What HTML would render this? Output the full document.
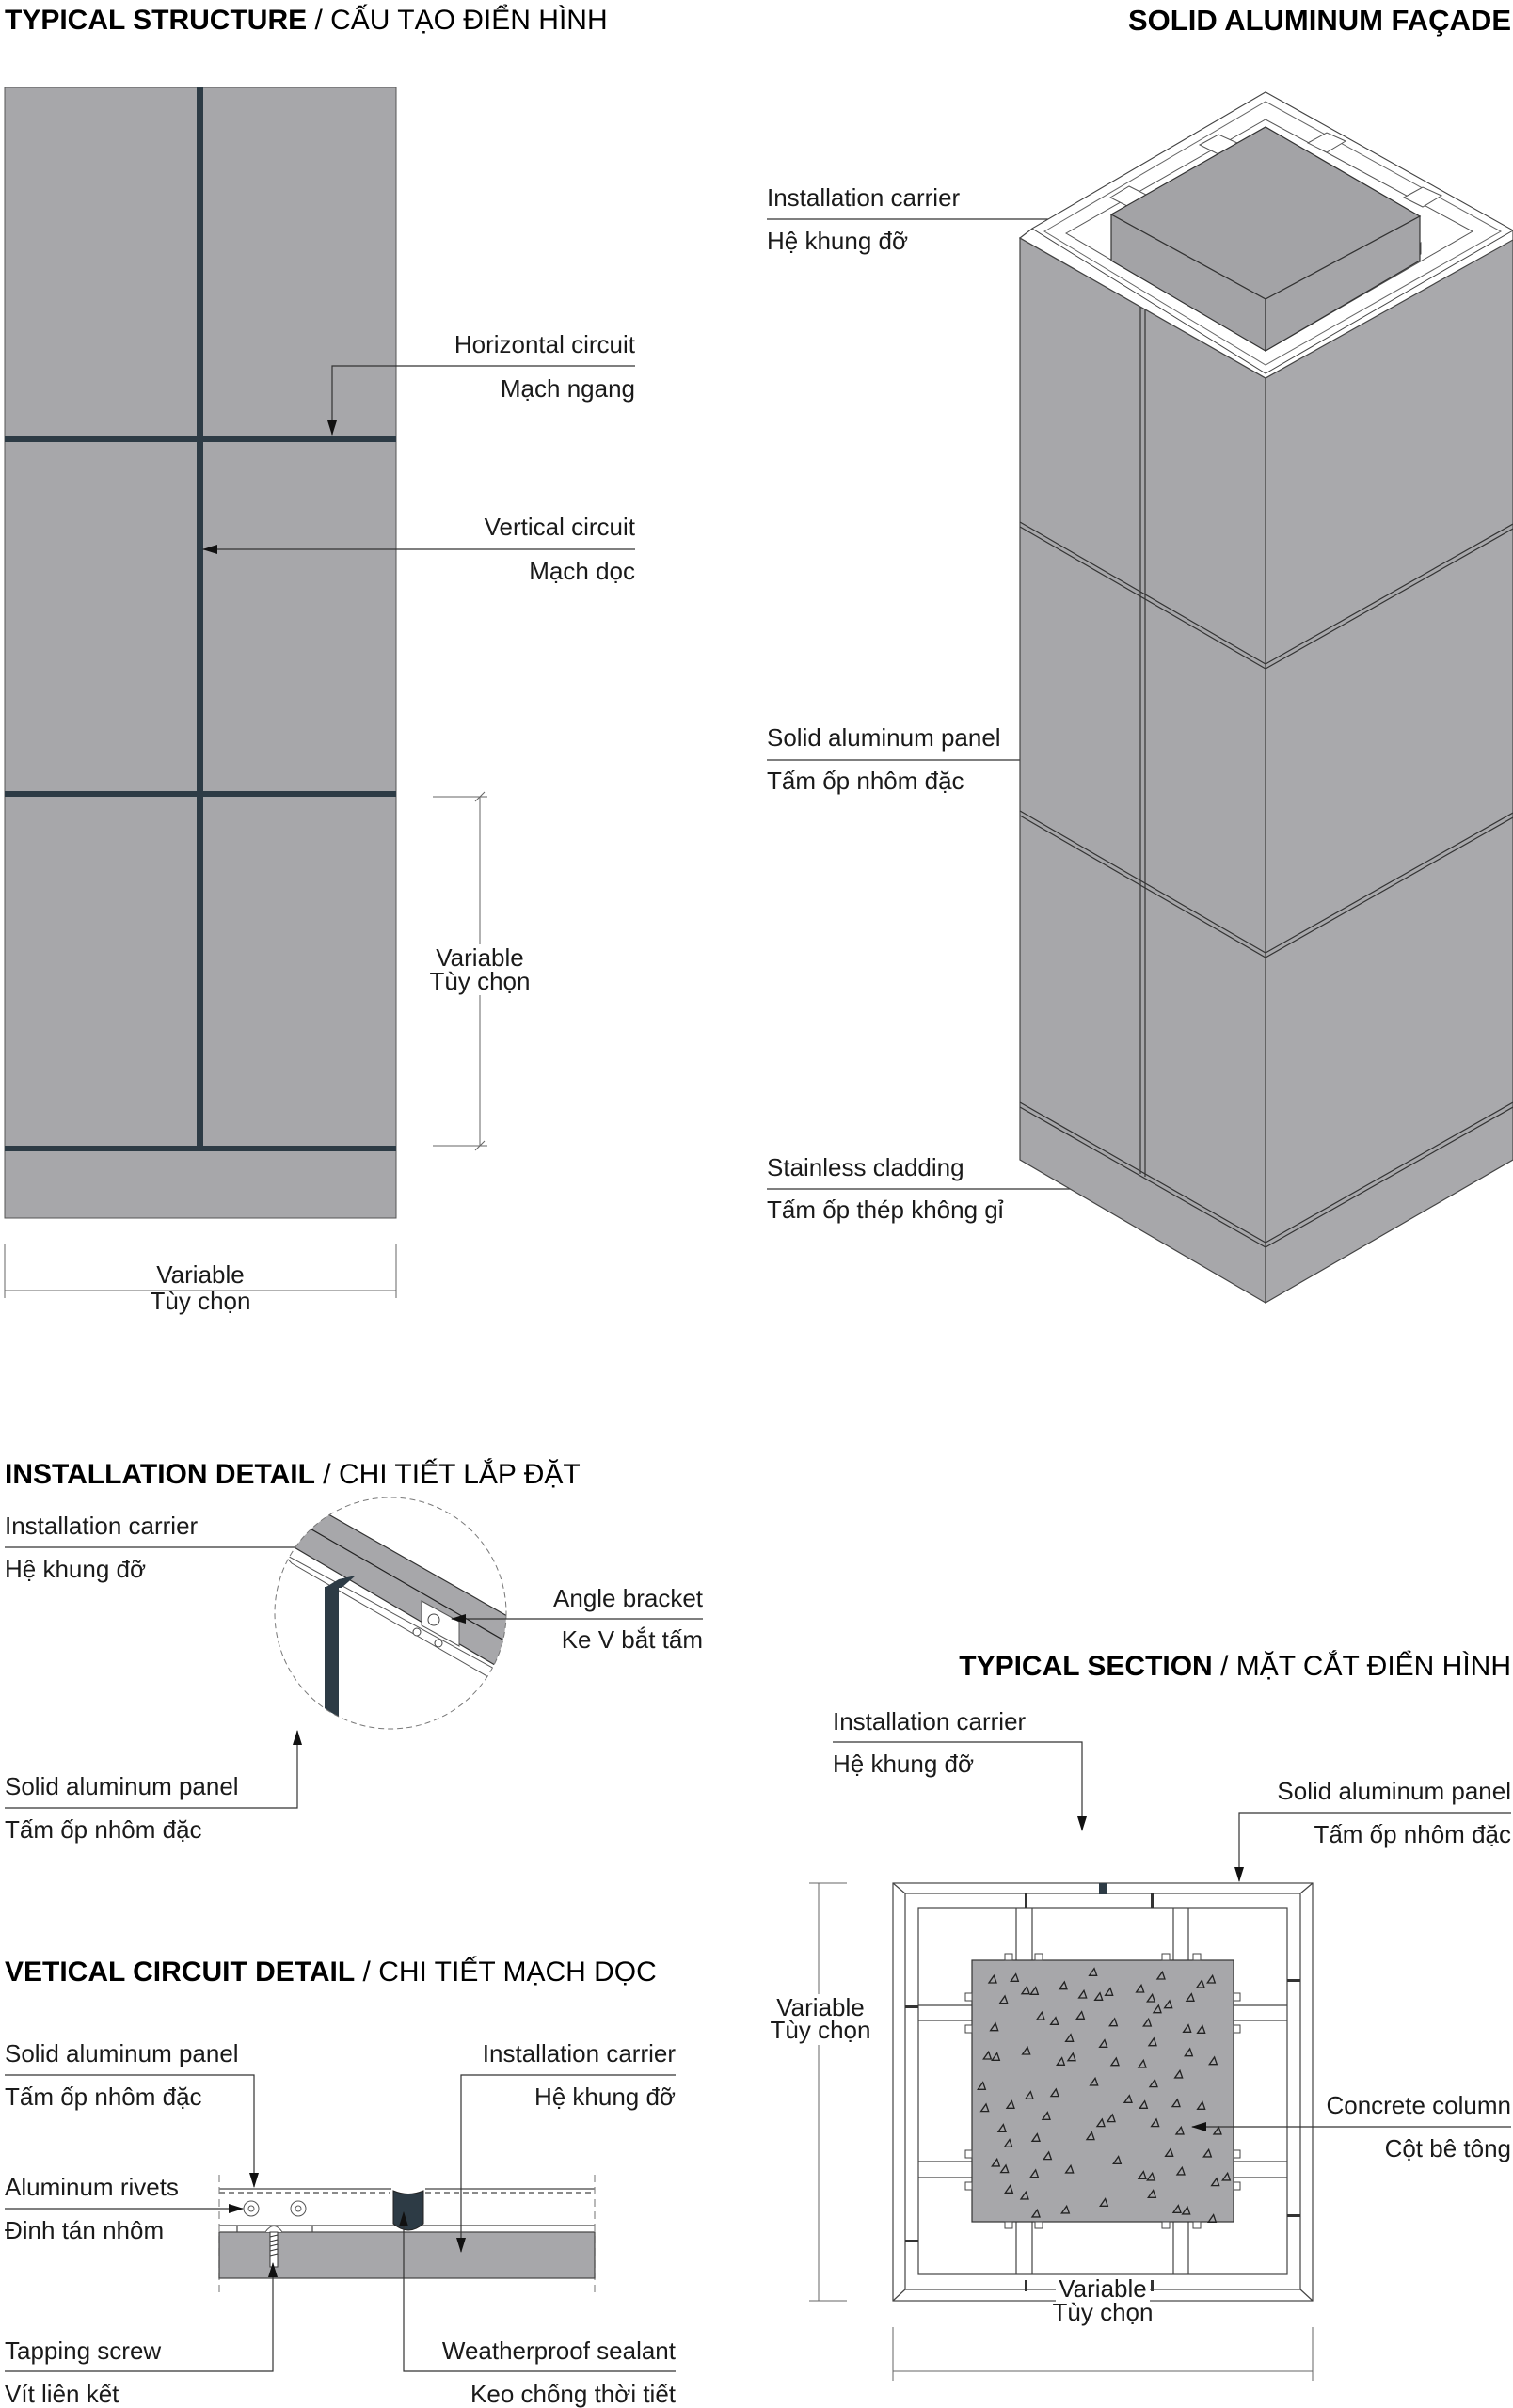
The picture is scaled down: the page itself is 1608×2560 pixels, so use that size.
<!DOCTYPE html>
<html><head><meta charset="utf-8">
<style>
html,body{margin:0;padding:0;background:#fff}
svg{display:block}
text{font-family:"Liberation Sans","DejaVu Sans",sans-serif;font-size:26px;fill:#1a1a1a}
.t{font-size:30px;fill:#000}
.b{font-weight:bold}
.ln{stroke:#333;stroke-width:1.2;fill:none}
.dm{stroke:#666;stroke-width:1;fill:none}
.pl{fill:#a7a7aa;stroke:#555;stroke-width:1}
</style></head><body>
<svg width="1608" height="2560" viewBox="0 0 1608 2560" xmlns="http://www.w3.org/2000/svg">
<defs>
<marker id="a" markerWidth="16" markerHeight="10" refX="15" refY="5" orient="auto" markerUnits="userSpaceOnUse">
<path d="M0,0 L16,5 L0,10 z" fill="#111"/></marker>
<path id="tr" d="M-12,9 L12,9 L4,-14 Z" fill="none" stroke="#222" stroke-width="4"/>
</defs>

<text x="5" y="31" class="t"><tspan class="b">TYPICAL STRUCTURE</tspan> / CẤU TẠO ĐIỂN HÌNH</text>
<text x="1606" y="32" class="t b" text-anchor="end" style="font-size:31px">SOLID ALUMINUM FAÇADE</text>

<rect x="5" y="93" width="416" height="1202" class="pl"/>
<rect x="209" y="93" width="7" height="1128" fill="#2d3b45"/>
<rect x="5" y="464" width="416" height="6" fill="#2d3b45"/>
<rect x="5" y="841" width="416" height="6" fill="#2d3b45"/>
<rect x="5" y="1218" width="416" height="6" fill="#2d3b45"/>

<text x="675" y="375" text-anchor="end">Horizontal circuit</text>
<polyline class="ln" points="675,389 353,389 353,462" marker-end="url(#a)"/>
<text x="675" y="422" text-anchor="end">Mạch ngang</text>
<text x="675" y="569" text-anchor="end">Vertical circuit</text>
<line class="ln" x1="675" y1="584" x2="216" y2="584" marker-end="url(#a)"/>
<text x="675" y="616" text-anchor="end">Mạch dọc</text>

<line class="dm" x1="510" y1="847" x2="510" y2="1218"/>
<line class="dm" x1="460" y1="847" x2="518" y2="847"/>
<line class="dm" x1="460" y1="1218" x2="518" y2="1218"/>
<line class="dm" x1="505" y1="852" x2="515" y2="842"/>
<line class="dm" x1="505" y1="1223" x2="515" y2="1213"/>
<rect x="458" y="1004" width="104" height="54" fill="#fff"/>
<text x="510" y="1027" text-anchor="middle">Variable</text>
<text x="510" y="1052" text-anchor="middle">Tùy chọn</text>

<line class="dm" x1="5" y1="1372" x2="421" y2="1372"/>
<line class="dm" x1="5" y1="1323" x2="5" y2="1380"/>
<line class="dm" x1="421" y1="1323" x2="421" y2="1380"/>
<text x="213" y="1364" text-anchor="middle">Variable</text>
<text x="213" y="1392" text-anchor="middle">Tùy chọn</text>

<text x="815" y="219">Installation carrier</text>
<line class="ln" x1="815" y1="233" x2="1143" y2="233" marker-end="url(#a)"/>
<text x="815" y="265">Hệ khung đỡ</text>
<text x="815" y="793">Solid aluminum panel</text>
<line class="ln" x1="815" y1="808" x2="1084" y2="808"/>
<text x="815" y="839">Tấm ốp nhôm đặc</text>
<text x="815" y="1250">Stainless cladding</text>
<line class="ln" x1="815" y1="1264" x2="1177" y2="1264" marker-end="url(#a)"/>
<text x="815" y="1295">Tấm ốp thép không gỉ</text>

<polygon points="1084,253 1345,402 1345,1385 1084,1233" fill="#a7a7aa" stroke="#444" stroke-width="1.2"/>
<polygon points="1345,402 1608,253 1608,1233 1345,1385" fill="#a9a9ac" stroke="#444" stroke-width="1.2"/>
<g stroke="#333" stroke-width="1.2" fill="none">
<line x1="1212" y1="326" x2="1212" y2="1248"/><line x1="1217" y1="329" x2="1217" y2="1251"/>
<line x1="1084" y1="555" x2="1345" y2="706"/><line x1="1084" y1="560" x2="1345" y2="711"/>
<line x1="1345" y1="706" x2="1608" y2="557"/><line x1="1345" y1="711" x2="1608" y2="562"/>
<line x1="1084" y1="862" x2="1345" y2="1013"/><line x1="1084" y1="867" x2="1345" y2="1018"/>
<line x1="1345" y1="1013" x2="1608" y2="864"/><line x1="1345" y1="1018" x2="1608" y2="869"/>
<line x1="1084" y1="1172" x2="1345" y2="1321"/><line x1="1084" y1="1177" x2="1345" y2="1326"/>
<line x1="1345" y1="1321" x2="1608" y2="1172"/><line x1="1345" y1="1326" x2="1608" y2="1177"/>
</g>
<polygon points="1084,253 1097,243 1345,98 1608,245 1608,255 1345,402" fill="#fff" stroke="#444" stroke-width="1.2"/>
<polygon points="1097,243 1345,98 1608,245 1345,397" fill="#fff" stroke="#444" stroke-width="1"/>
<polygon points="1110,246 1345,108 1595,246 1345,388" fill="none" stroke="#666" stroke-width="1"/>
<polygon points="1133,248 1345,127 1565,246 1345,373" fill="#fff" stroke="#555" stroke-width="1"/>
<g stroke="#555" stroke-width="1" fill="#fff">
<polygon points="1180,210 1200,198 1220,208 1200,220"/>
<polygon points="1275,154 1295,143 1315,152 1295,164"/>
<polygon points="1390,152 1410,141 1430,150 1410,162"/>
<polygon points="1492,210 1512,199 1532,208 1512,220"/>
<polygon points="1200,270 1250,300 1250,312 1200,282"/>
<polygon points="1290,315 1330,338 1330,350 1290,327"/>
<polygon points="1365,338 1400,318 1400,330 1365,350"/>
<polygon points="1470,280 1510,258 1510,270 1470,292"/>
</g>
<polygon points="1181,228 1345,135 1509,230 1345,318" fill="#a3a3a6" stroke="#333" stroke-width="1.2"/>
<polygon points="1181,228 1345,318 1345,373 1181,277" fill="#a3a3a6" stroke="#333" stroke-width="1.2"/>
<polygon points="1345,318 1509,230 1509,277 1345,373" fill="#a5a5a8" stroke="#333" stroke-width="1.2"/>

<text x="5" y="1577" class="t"><tspan class="b">INSTALLATION DETAIL</tspan> / CHI TIẾT LẮP ĐẶT</text>
<text x="5" y="1631">Installation carrier</text>
<line class="ln" x1="5" y1="1645" x2="354" y2="1645" marker-end="url(#a)"/>
<text x="5" y="1677">Hệ khung đỡ</text>
<clipPath id="c1"><circle cx="415" cy="1715" r="123"/></clipPath>
<g clip-path="url(#c1)">
<polygon points="300,1651 310,1662 540,1795 540,1782" fill="#fff" stroke="#555" stroke-width="1"/>
<polygon points="270,1565 560,1730 560,1790 270,1620" fill="#a7a7aa" stroke="#333" stroke-width="1.2"/>
<line x1="300" y1="1608" x2="560" y2="1758" stroke="#222" stroke-width="1.2"/>
<polygon points="345,1688 360,1679 378,1675 363,1688" fill="#2d3b45"/>
<rect x="345" y="1687" width="15" height="160" fill="#2d3b45"/>
<polygon points="448,1702 488,1724 488,1750 448,1728" fill="#fff" stroke="#555"/>
<circle cx="461" cy="1722" r="6" fill="#fff" stroke="#444"/>
<circle cx="443" cy="1735" r="4" fill="#fff" stroke="#444"/>
<circle cx="466" cy="1747" r="4" fill="#fff" stroke="#444"/>
</g>
<circle cx="415" cy="1715" r="123" fill="none" stroke="#777" stroke-width="1" stroke-dasharray="6,4"/>
<text x="747" y="1708" text-anchor="end">Angle bracket</text>
<line class="ln" x1="747" y1="1721" x2="480" y2="1721" marker-end="url(#a)"/>
<text x="747" y="1752" text-anchor="end">Ke V bắt tấm</text>
<text x="5" y="1908">Solid aluminum panel</text>
<polyline class="ln" points="5,1922 316,1922 316,1840" marker-end="url(#a)"/>
<text x="5" y="1954">Tấm ốp nhôm đặc</text>

<text x="1606" y="1781" class="t" text-anchor="end"><tspan class="b">TYPICAL SECTION</tspan> / MẶT CẮT ĐIỂN HÌNH</text>
<text x="885" y="1839">Installation carrier</text>
<polyline class="ln" points="885,1852 1150,1852 1150,1946" marker-end="url(#a)"/>
<text x="885" y="1884">Hệ khung đỡ</text>
<text x="1606" y="1913" text-anchor="end">Solid aluminum panel</text>
<polyline class="ln" points="1606,1927 1317,1927 1317,2000" marker-end="url(#a)"/>
<text x="1606" y="1959" text-anchor="end">Tấm ốp nhôm đặc</text>

<g stroke="#444" stroke-width="1.2" fill="none">
<rect x="949" y="2002" width="446" height="444"/>
<rect x="962" y="2013" width="420" height="421"/>
<line x1="949" y1="2002" x2="962" y2="2013"/><line x1="1395" y1="2002" x2="1382" y2="2013"/>
<line x1="949" y1="2446" x2="962" y2="2434"/><line x1="1395" y1="2446" x2="1382" y2="2434"/>
<rect x="976" y="2028" width="392" height="390"/>
<line x1="1080" y1="2028" x2="1080" y2="2418"/><line x1="1097" y1="2028" x2="1097" y2="2418"/>
<line x1="1247" y1="2028" x2="1247" y2="2418"/><line x1="1263" y1="2028" x2="1263" y2="2418"/>
<line x1="976" y1="2132" x2="1368" y2="2132"/><line x1="976" y1="2148" x2="1368" y2="2148"/>
<line x1="976" y1="2298" x2="1368" y2="2298"/><line x1="976" y1="2315" x2="1368" y2="2315"/>
</g>
<rect x="1168" y="2002" width="8" height="12" fill="#2d3b45"/>
<rect x="1033" y="2084" width="278" height="278" fill="#a7a7aa" stroke="#333" stroke-width="1.2"/>
<g fill="#fff" stroke="#444" stroke-width="1">
<rect x="1068" y="2077" width="8" height="7"/><rect x="1100" y="2077" width="8" height="7"/>
<rect x="1235" y="2077" width="8" height="7"/><rect x="1268" y="2077" width="8" height="7"/>
<rect x="1068" y="2362" width="8" height="7"/><rect x="1100" y="2362" width="8" height="7"/>
<rect x="1235" y="2362" width="8" height="7"/><rect x="1268" y="2362" width="8" height="7"/>
<rect x="1026" y="2119" width="7" height="8"/><rect x="1026" y="2153" width="7" height="8"/>
<rect x="1026" y="2286" width="7" height="8"/><rect x="1026" y="2320" width="7" height="8"/>
<rect x="1311" y="2119" width="7" height="8"/><rect x="1311" y="2153" width="7" height="8"/>
<rect x="1311" y="2286" width="7" height="8"/><rect x="1311" y="2320" width="7" height="8"/>
</g>
<g fill="#333"><rect x="1089" y="2012" width="3" height="16"/><rect x="1223" y="2012" width="3" height="16"/>
<rect x="1089" y="2424" width="3" height="12"/><rect x="1223" y="2424" width="3" height="12"/>
<rect x="962" y="2132" width="14" height="3"/><rect x="962" y="2381" width="14" height="3"/>
<rect x="1368" y="2104" width="14" height="3"/><rect x="1368" y="2354" width="14" height="3"/></g>
<g transform="translate(940,1990) scale(0.3333)">
<use href="#tr" x="345" y="345"/><use href="#tr" x="415" y="340"/><use href="#tr" x="380" y="410"/><use href="#tr" x="450" y="380"/><use href="#tr" x="478" y="382"/><use href="#tr" x="570" y="365"/><use href="#tr" x="632" y="393"/><use href="#tr" x="683" y="400"/><use href="#tr" x="716" y="385"/><use href="#tr" x="665" y="322"/><use href="#tr" x="815" y="375"/><use href="#tr" x="850" y="405"/><use href="#tr" x="882" y="333"/><use href="#tr" x="905" y="425"/><use href="#tr" x="870" y="440"/><use href="#tr" x="975" y="403"/><use href="#tr" x="1008" y="360"/><use href="#tr" x="1042" y="345"/><use href="#tr" x="350" y="497"/><use href="#tr" x="498" y="462"/><use href="#tr" x="542" y="478"/><use href="#tr" x="625" y="460"/><use href="#tr" x="730" y="482"/><use href="#tr" x="838" y="483"/><use href="#tr" x="965" y="502"/><use href="#tr" x="1010" y="505"/><use href="#tr" x="590" y="532"/><use href="#tr" x="698" y="550"/><use href="#tr" x="855" y="545"/><use href="#tr" x="328" y="588"/><use href="#tr" x="355" y="592"/><use href="#tr" x="452" y="573"/><use href="#tr" x="562" y="607"/><use href="#tr" x="597" y="593"/><use href="#tr" x="735" y="608"/><use href="#tr" x="822" y="615"/><use href="#tr" x="970" y="578"/><use href="#tr" x="1048" y="605"/><use href="#tr" x="938" y="648"/><use href="#tr" x="310" y="685"/><use href="#tr" x="462" y="715"/><use href="#tr" x="543" y="707"/><use href="#tr" x="668" y="672"/><use href="#tr" x="858" y="677"/><use href="#tr" x="320" y="755"/><use href="#tr" x="402" y="745"/><use href="#tr" x="516" y="781"/><use href="#tr" x="777" y="727"/><use href="#tr" x="826" y="745"/><use href="#tr" x="930" y="740"/><use href="#tr" x="1010" y="748"/><use href="#tr" x="375" y="820"/><use href="#tr" x="395" y="868"/><use href="#tr" x="483" y="850"/><use href="#tr" x="690" y="803"/><use href="#tr" x="723" y="788"/><use href="#tr" x="863" y="803"/><use href="#tr" x="657" y="845"/><use href="#tr" x="942" y="828"/><use href="#tr" x="1062" y="828"/><use href="#tr" x="908" y="898"/><use href="#tr" x="1030" y="900"/><use href="#tr" x="742" y="922"/><use href="#tr" x="355" y="930"/><use href="#tr" x="383" y="950"/><use href="#tr" x="520" y="908"/><use href="#tr" x="478" y="965"/><use href="#tr" x="590" y="951"/><use href="#tr" x="822" y="970"/><use href="#tr" x="850" y="975"/><use href="#tr" x="945" y="957"/><use href="#tr" x="1055" y="992"/><use href="#tr" x="1090" y="975"/><use href="#tr" x="397" y="1015"/><use href="#tr" x="447" y="1035"/><use href="#tr" x="853" y="1030"/><use href="#tr" x="700" y="1057"/><use href="#tr" x="483" y="1092"/><use href="#tr" x="577" y="1080"/><use href="#tr" x="933" y="1078"/><use href="#tr" x="962" y="1083"/><use href="#tr" x="1045" y="1108"/>
</g>
<text x="1606" y="2247" text-anchor="end">Concrete column</text>
<line class="ln" x1="1606" y1="2261" x2="1267" y2="2261" marker-end="url(#a)"/>
<text x="1606" y="2293" text-anchor="end">Cột bê tông</text>

<line class="dm" x1="870" y1="2002" x2="870" y2="2446"/>
<line class="dm" x1="860" y1="2002" x2="900" y2="2002"/>
<line class="dm" x1="860" y1="2446" x2="900" y2="2446"/>
<rect x="820" y="2120" width="104" height="54" fill="#fff"/>
<text x="872" y="2143" text-anchor="middle">Variable</text>
<text x="872" y="2167" text-anchor="middle">Tùy chọn</text>
<line class="dm" x1="949" y1="2521" x2="1395" y2="2521"/>
<line class="dm" x1="949" y1="2474" x2="949" y2="2531"/>
<line class="dm" x1="1395" y1="2474" x2="1395" y2="2531"/>
<rect x="1122" y="2420" width="100" height="54" fill="#fff"/>
<text x="1172" y="2442" text-anchor="middle">Variable</text>
<text x="1172" y="2467" text-anchor="middle">Tùy chọn</text>

<text x="5" y="2106" class="t"><tspan class="b">VETICAL CIRCUIT DETAIL</tspan> / CHI TIẾT MẠCH DỌC</text>
<g stroke="#444" stroke-width="1.2" fill="none">
<line x1="233" y1="2327" x2="416" y2="2327"/><line x1="452" y1="2327" x2="632" y2="2327"/>
<line x1="233" y1="2331" x2="414" y2="2331" stroke-dasharray="6,4"/><line x1="452" y1="2331" x2="632" y2="2331" stroke-dasharray="6,4"/>
<line x1="233" y1="2366" x2="632" y2="2366"/>
<line x1="252" y1="2366" x2="252" y2="2373"/><line x1="332" y1="2366" x2="332" y2="2373"/>
<line x1="233" y1="2312" x2="233" y2="2440" stroke="#888" stroke-dasharray="8,5"/>
<line x1="632" y1="2312" x2="632" y2="2440" stroke="#888" stroke-dasharray="8,5"/>
</g>
<rect x="233" y="2373" width="399" height="49" fill="#a7a7aa" stroke="#444" stroke-width="1.2"/>
<path d="M418,2329 Q434,2336 450,2329 L450,2364 Q434,2378 418,2364 Z" fill="#2d3b45" stroke="#222"/>
<circle cx="267" cy="2348" r="8" fill="#fff" stroke="#555"/><circle cx="267" cy="2348" r="3" fill="none" stroke="#555"/>
<circle cx="317" cy="2348" r="8" fill="#fff" stroke="#555"/><circle cx="317" cy="2348" r="3" fill="none" stroke="#555"/>
<path d="M282,2373 Q291,2360 300,2373" fill="#fff" stroke="#555"/>
<rect x="287" y="2373" width="8" height="37" fill="#fff" stroke="#333"/>
<g stroke="#333"><line x1="287" y1="2378" x2="295" y2="2376"/><line x1="287" y1="2383" x2="295" y2="2381"/><line x1="287" y1="2388" x2="295" y2="2386"/><line x1="287" y1="2393" x2="295" y2="2391"/><line x1="287" y1="2398" x2="295" y2="2396"/></g>

<text x="5" y="2192">Solid aluminum panel</text>
<polyline class="ln" points="5,2206 270,2206 270,2325" marker-end="url(#a)"/>
<text x="5" y="2238">Tấm ốp nhôm đặc</text>
<text x="718" y="2192" text-anchor="end">Installation carrier</text>
<polyline class="ln" points="718,2206 490,2206 490,2394" marker-end="url(#a)"/>
<text x="718" y="2238" text-anchor="end">Hệ khung đỡ</text>
<text x="5" y="2334">Aluminum rivets</text>
<line class="ln" x1="5" y1="2348" x2="258" y2="2348" marker-end="url(#a)"/>
<text x="5" y="2380">Đinh tán nhôm</text>
<text x="5" y="2508">Tapping screw</text>
<polyline class="ln" points="5,2521 290,2521 290,2406" marker-end="url(#a)"/>
<text x="5" y="2554">Vít liên kết</text>
<text x="718" y="2508" text-anchor="end">Weatherproof sealant</text>
<polyline class="ln" points="718,2521 429,2521 429,2352" marker-end="url(#a)"/>
<text x="718" y="2554" text-anchor="end">Keo chống thời tiết</text>
</svg>
</body></html>
